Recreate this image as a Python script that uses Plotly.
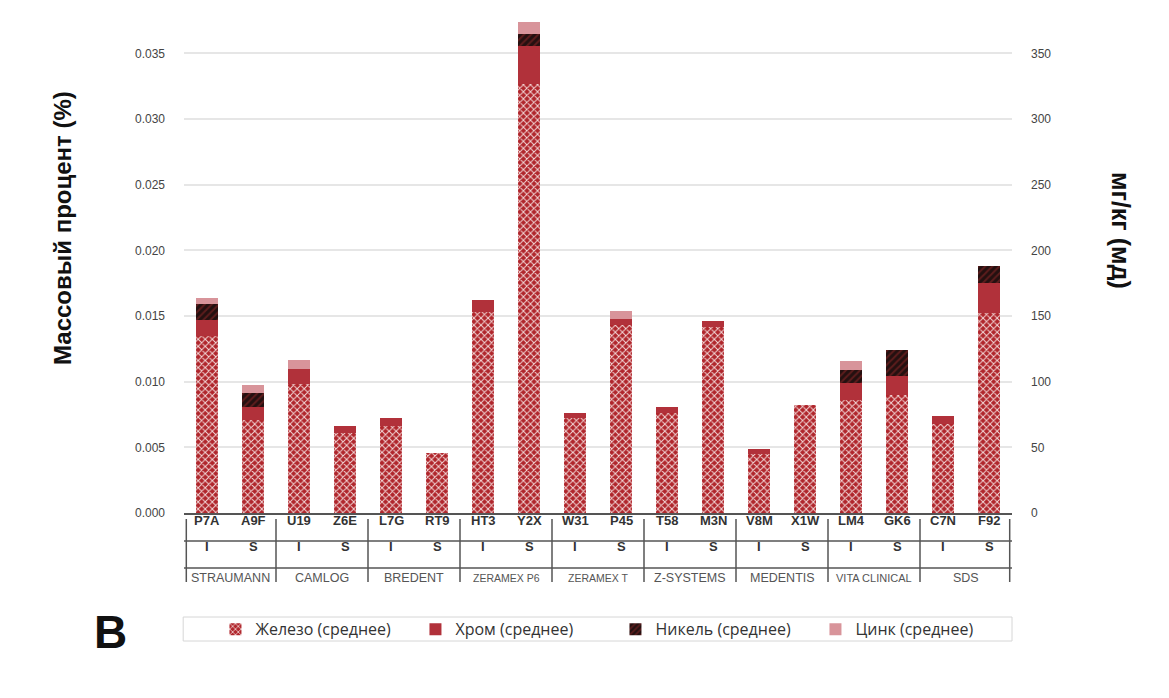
import plotly.graph_objects as go

samples = ["P7A", "A9F", "U19", "Z6E", "L7G", "RT9", "HT3", "Y2X", "W31", "P45",
           "T58", "M3N", "V8M", "X1W", "LM4", "GK6", "C7N", "F92"]
types = ["I", "S"] * 9
brands = ["STRAUMANN", "CAMLOG", "BREDENT", "ZERAMEX P6", "ZERAMEX T",
          "Z-SYSTEMS", "MEDENTIS", "VITA CLINICAL", "SDS"]
brand_sizes = [12.5, 12.5, 12.5, 10.5, 10.5, 12.5, 12.5, 11, 12.5]

iron = [0.0135, 0.0071, 0.0098, 0.0061, 0.0066, 0.0046, 0.0153, 0.0327, 0.0072,
        0.0143, 0.0076, 0.0142, 0.0045, 0.0082, 0.0086, 0.0090, 0.0068, 0.0152]
chrome = [0.0012, 0.00095, 0.00115, 0.00055, 0.0006, 0.0, 0.0009, 0.0029, 0.0004,
          0.0005, 0.00045, 0.0004, 0.0004, 0.0, 0.00127, 0.0014, 0.00055, 0.0023]
nickel = [0.0012, 0.0011, 0.0, 0.0, 0.0, 0.0, 0.0, 0.0009, 0.0,
          0.0, 0.0, 0.0, 0.0, 0.0, 0.0010, 0.0020, 0.0, 0.0013]
zinc = [0.00045, 0.0006, 0.0007, 0.0, 0.0, 0.0, 0.0, 0.0009, 0.0,
        0.0006, 0.0, 0.0, 0.0, 0.0, 0.0007, 0.0, 0.0, 0.0]

left_ticks = [0.0, 0.005, 0.010, 0.015, 0.020, 0.025, 0.030, 0.035]
right_ticks = [0, 50, 100, 150, 200, 250, 300, 350]

FONT = "Liberation Sans, Arial, sans-serif"

fig = go.Figure()
fig.add_trace(go.Bar(
    x=samples, y=iron, name="Железо (среднее)",
    marker=dict(color="#b0262c", line=dict(width=0),
                pattern=dict(shape="x", fgcolor="#f3dada", bgcolor="#b0262c",
                             size=5, solidity=0.35, fillmode="replace")),
))
fig.add_trace(go.Bar(
    x=samples, y=chrome, name="Хром (среднее)",
    marker=dict(color="#b1313a", line=dict(width=0)),
))
fig.add_trace(go.Bar(
    x=samples, y=nickel, name="Никель (среднее)",
    marker=dict(color="#241010", line=dict(width=0),
                pattern=dict(shape="/", fgcolor="#5c1c1c", bgcolor="#241010",
                             size=5, solidity=0.4, fillmode="replace")),
))
fig.add_trace(go.Bar(
    x=samples, y=zinc, name="Цинк (среднее)",
    marker=dict(color="#d8949a", line=dict(width=0)),
))
# invisible trace for right axis
fig.add_trace(go.Scatter(x=samples, y=[None] * len(samples), yaxis="y2",
                         showlegend=False, hoverinfo="skip"))

fig.update_layout(
    width=1169, height=698,
    barmode="stack", bargap=0.52,
    paper_bgcolor="white", plot_bgcolor="white",
    margin=dict(l=184, r=157, t=14, b=185),
    font=dict(family=FONT, size=12, color="#444"),
    xaxis=dict(type="category", range=[-0.5, 17.5], showticklabels=False,
               showline=True, linecolor="#555", linewidth=2, ticks="",
               showgrid=False, zeroline=False),
    yaxis=dict(range=[0, 0.038], tickvals=left_ticks, tickformat=".3f",
               showgrid=True, gridcolor="#e6e6e6", gridwidth=1.5,
               zeroline=False, ticks="", ticklabelstandoff=18,
               tickfont=dict(size=12, color="#444")),
    yaxis2=dict(range=[0, 380], tickvals=right_ticks, overlaying="y",
                side="right", showgrid=False, zeroline=False, ticks="",
                ticklabelstandoff=18, tickfont=dict(size=12, color="#444")),
    legend=dict(orientation="h", x=0.038, xanchor="left", y=-0.233,
                yanchor="middle", entrywidth=155, entrywidthmode="pixels",
                font=dict(family="Liberation Sans Narrow, Open Sans, sans-serif",
                          size=16, color="#333"),
                bgcolor="rgba(0,0,0,0)", traceorder="normal"),
)

def py(p):
    return (513 - p) / 499.0

def px(p):
    return (p - 184) / 828.0

annotations = []
shapes = []
for i, s in enumerate(samples):
    annotations.append(dict(x=s, y=py(530), xref="x", yref="paper", text=f"<b>{s}</b>",
                            showarrow=False, font=dict(size=13, color="#333", family=FONT)))
    annotations.append(dict(x=s, y=py(556), xref="x", yref="paper", text=f"<b>{types[i]}</b>",
                            showarrow=False, font=dict(size=13, color="#333", family=FONT)))
for j, b in enumerate(brands):
    annotations.append(dict(x=2 * j + 0.5, y=py(578), xref="x", yref="paper", text=b,
                            showarrow=False, yanchor="middle",
                            font=dict(size=brand_sizes[j], color="#555", family=FONT)))
for k in range(10):
    xv = 2 * k - 0.5 + (0.05 if k == 0 else 0) - (0.05 if k == 9 else 0)
    shapes.append(dict(type="line", xref="x", yref="paper", x0=xv, x1=xv,
                       y0=py(519), y1=py(582), line=dict(color="#555", width=1.5)))
for p in (541, 568):
    shapes.append(dict(type="line", xref="x", yref="paper", x0=-0.55, x1=17.5,
                       y0=py(p), y1=py(p), line=dict(color="#555", width=1.5)))
# legend box
shapes.append(dict(type="rect", xref="paper", yref="paper", x0=-0.001, x1=1.0,
                   y0=py(641), y1=py(617), line=dict(color="#d6d6d6", width=1),
                   fillcolor="rgba(0,0,0,0)"))

annotations.append(dict(x=px(62), y=py(228), xref="paper", yref="paper",
                        xanchor="center", yanchor="middle",
                        text="<b>Массовый процент (%)</b>", showarrow=False, textangle=-90,
                        font=dict(size=24, color="#111", family=FONT)))
annotations.append(dict(x=px(1121), y=py(230), xref="paper", yref="paper",
                        xanchor="center", yanchor="middle",
                        text="<b>мг/кг (мд)</b>", showarrow=False, textangle=90,
                        font=dict(size=25, color="#111", family=FONT)))
annotations.append(dict(x=px(110), y=py(632), xref="paper", yref="paper",
                        xanchor="center", yanchor="middle",
                        text="<b>B</b>", showarrow=False,
                        font=dict(size=46, color="#111", family=FONT)))

fig.update_layout(annotations=annotations, shapes=shapes)
fig.write_html("out.html")
